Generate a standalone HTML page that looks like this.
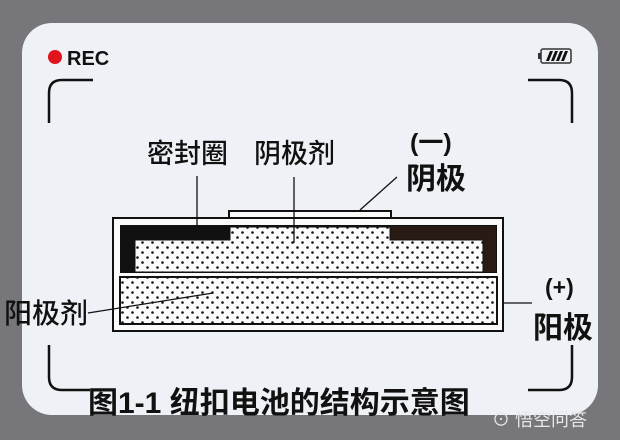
<!DOCTYPE html>
<html><head><meta charset="utf-8"><style>
html,body{margin:0;padding:0;background:#77777b;width:620px;height:440px;overflow:hidden}
svg{display:block}
</style></head><body>
<svg width="620" height="440" viewBox="0 0 620 440" xmlns="http://www.w3.org/2000/svg">
<defs>
<pattern id="d" width="10" height="10" patternUnits="userSpaceOnUse">
<rect width="10" height="10" fill="#fbfbfb"/>
<circle cx="2.5" cy="2.5" r="1.3" fill="#111"/>
<circle cx="7.5" cy="7.5" r="1.3" fill="#111"/>
</pattern>
</defs>
<rect x="0" y="0" width="620" height="440" fill="#77777b"/>
<rect x="22" y="23" width="576" height="392" rx="30" fill="#eef1f5"/>
<!-- REC -->
<circle cx="55" cy="57" r="7" fill="#e0141b"/>
<text x="67" y="65" font-family="Liberation Sans, sans-serif" font-weight="bold" font-size="20" fill="#111">REC</text>
<!-- battery -->
<rect x="541" y="49" width="30" height="14" rx="2" fill="none" stroke="#333" stroke-width="1.5"/>
<rect x="538" y="53" width="3" height="6" fill="#333"/>
<path d="M546 61 L550 51 L553 51 L549 61Z M551 61 L555 51 L558 51 L554 61Z M556 61 L560 51 L563 51 L559 61Z M561 61 L565 51 L568 51 L564 61Z" fill="#111"/>
<!-- corner brackets -->
<g fill="none" stroke="#111" stroke-width="2.5">
<path d="M49 123 V93 Q49 80 62 80 H93"/>
<path d="M572 123 V93 Q572 80 559 80 H528"/>
<path d="M49 345 V377 Q49 390 62 390 H90"/>
<path d="M572 345 V377 Q572 390 559 390 H528"/>
</g>
<!-- diagram -->
<g stroke="#111" stroke-width="2">
<rect x="229" y="211" width="162" height="8" fill="#fbfbfb"/>
<rect x="113" y="218" width="390" height="113" fill="#fbfbfb"/>
</g>
<rect x="120" y="225" width="377" height="48" fill="#111"/>
<rect x="390" y="226" width="106" height="46" fill="#2a1a14"/>
<path d="M230 227 H390 V240 H483 V272 H135 V240 H230Z" fill="url(#d)" stroke="#111" stroke-width="1"/>
<rect x="120" y="277" width="377" height="47" fill="url(#d)" stroke="#111" stroke-width="2"/>
<!-- leaders -->
<g stroke="#111" stroke-width="1.3" fill="none">
<line x1="197" y1="176" x2="197" y2="227"/>
<line x1="294" y1="177" x2="294" y2="243"/>
<line x1="360" y1="210" x2="397" y2="177"/>
<line x1="88" y1="313" x2="213" y2="293"/>
<line x1="503" y1="303" x2="532" y2="303"/>
</g>
<g font-family="Liberation Sans, 'Noto Sans CJK SC', sans-serif" fill="#111">
<text x="147" y="163" font-size="27" font-weight="500">密封圈</text>
<text x="254" y="163" font-size="27" font-weight="500">阴极剂</text>
<text x="410" y="151" font-size="25" font-weight="bold">(一)</text>
<text x="406" y="189" font-size="30" font-weight="bold">阴极</text>
<text x="545" y="295" font-size="23" font-weight="bold">(+)</text>
<text x="533" y="338" font-size="30" font-weight="bold">阳极</text>
<text x="4" y="323" font-size="28" font-weight="500">阳极剂</text>
<text x="88" y="413" font-size="30" font-weight="bold">图1-1 纽扣电池的结构示意图</text>
<text x="492" y="426" font-size="18" fill="#e8e8e8">⊙ 悟空问答</text>
</g>
</svg>
</body></html>
